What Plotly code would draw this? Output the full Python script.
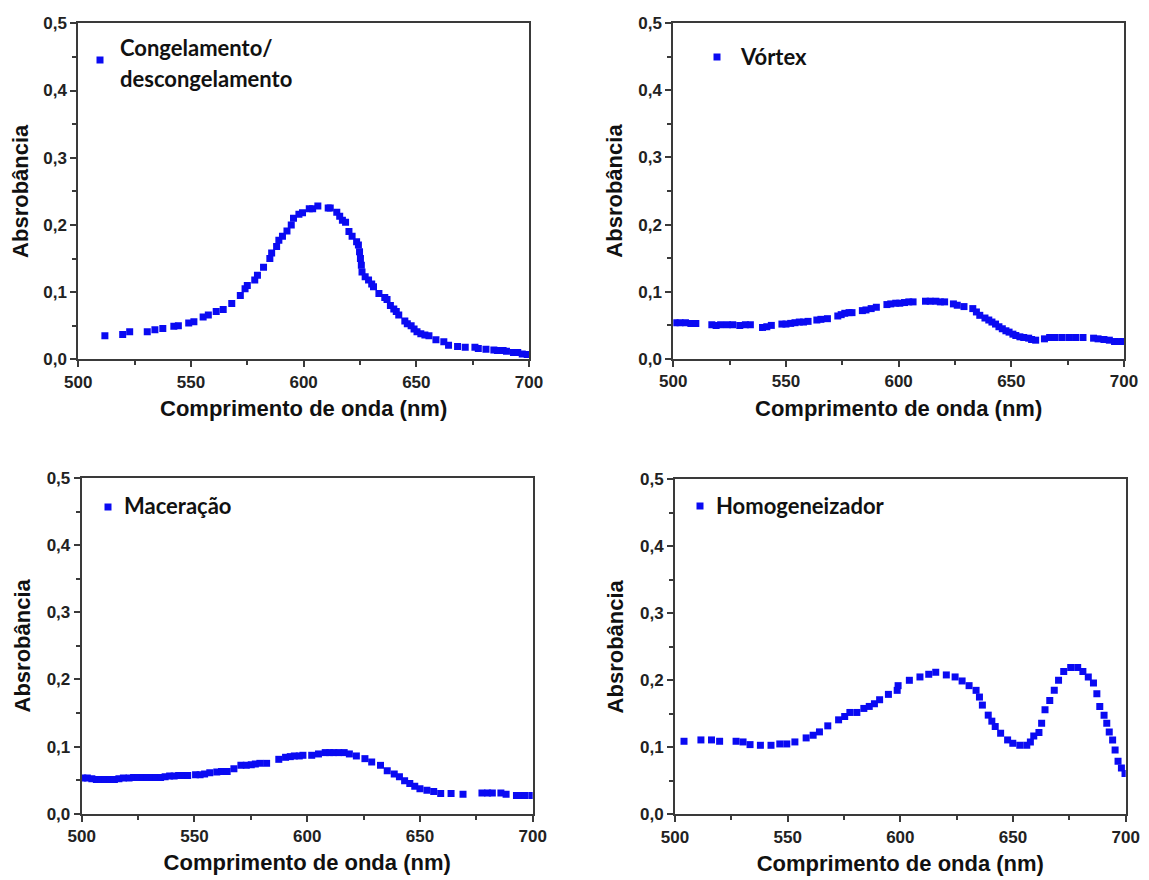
import plotly.graph_objects as go

# ---------------- data ----------------
wl_cong = [511.8, 519.7, 522.8, 530.6, 534.0, 537.5, 542.4, 544.4, 549.0, 551.3,
           555.4, 557.7, 561.2, 564.3, 568.1, 571.9, 574.0, 575.0, 578.3, 579.5,
           582.2, 585.0, 585.8, 588.0, 589.0, 590.6, 592.6, 594.5, 595.5, 597.9,
           599.5, 602.5, 604.0, 606.3, 610.9, 611.8, 614.7, 616.0, 617.2, 618.6,
           620.1, 621.5, 623.5, 624.3, 624.8, 625.2, 625.6, 625.9, 627.3, 628.8,
           630.2, 631.0, 633.4, 636.0, 637.0, 638.5, 640.0, 641.1, 642.2, 644.9,
           646.0, 647.7, 649.0, 650.3, 652.0, 653.8, 655.6, 658.7, 662.2, 664.3,
           668.3, 671.7, 676.0, 677.5, 680.9, 684.4, 686.0, 688.5, 690.0, 693.1,
           695.0, 697.0, 699.2]
abs_cong = [0.035, 0.037, 0.041, 0.041, 0.044, 0.046, 0.049, 0.050, 0.054, 0.056,
            0.063, 0.066, 0.071, 0.074, 0.083, 0.095, 0.105, 0.110, 0.118, 0.125,
            0.137, 0.150, 0.158, 0.168, 0.177, 0.183, 0.191, 0.200, 0.210, 0.216,
            0.218, 0.224, 0.224, 0.228, 0.225, 0.225, 0.219, 0.213, 0.207, 0.204,
            0.190, 0.183, 0.175, 0.170, 0.160, 0.150, 0.140, 0.130, 0.123, 0.118,
            0.112, 0.108, 0.098, 0.092, 0.089, 0.080, 0.075, 0.071, 0.066, 0.057,
            0.053, 0.050, 0.045, 0.041, 0.038, 0.036, 0.035, 0.029, 0.026, 0.021,
            0.019, 0.018, 0.018, 0.016, 0.015, 0.014, 0.013, 0.013, 0.012, 0.010,
            0.010, 0.008, 0.007]

wl_vort = [500.8, 503.0, 505.4, 507.8, 510.0, 517.1, 519.0, 521.0, 524.0, 526.4,
           529.5, 532.0, 534.2, 539.6, 541.5, 543.5, 548.2, 550.0, 552.1, 554.0,
           555.9, 557.8, 559.8, 563.7, 565.5, 568.4, 573.0, 574.5, 576.1, 578.0,
           579.3, 583.9, 585.5, 587.8, 590.1, 594.8, 596.5, 598.7, 600.5, 602.6,
           604.5, 606.4, 611.9, 614.0, 616.5, 618.5, 620.4, 624.3, 626.0, 629.0,
           632.9, 634.5, 636.0, 638.3, 640.0, 641.4, 643.0, 644.5, 646.0, 647.6,
           649.0, 650.7, 652.0, 653.8, 655.5, 657.7, 659.0, 660.8, 664.7, 667.0,
           669.4, 672.5, 675.6, 678.5, 681.8, 686.5, 688.5, 691.1, 693.5, 695.8,
           697.5, 699.7]
abs_vort = [0.054, 0.054, 0.054, 0.053, 0.053, 0.051, 0.050, 0.051, 0.051, 0.051,
            0.050, 0.051, 0.051, 0.047, 0.048, 0.050, 0.052, 0.052, 0.053, 0.054,
            0.055, 0.055, 0.056, 0.058, 0.059, 0.060, 0.064, 0.066, 0.068, 0.069,
            0.069, 0.072, 0.073, 0.075, 0.077, 0.081, 0.082, 0.083, 0.083, 0.084,
            0.085, 0.085, 0.086, 0.086, 0.086, 0.085, 0.085, 0.082, 0.080, 0.078,
            0.075, 0.070, 0.065, 0.061, 0.058, 0.055, 0.052, 0.048, 0.045, 0.042,
            0.040, 0.037, 0.035, 0.033, 0.032, 0.031, 0.029, 0.028, 0.030, 0.032,
            0.032, 0.032, 0.032, 0.032, 0.032, 0.031, 0.030, 0.029, 0.028, 0.026,
            0.026, 0.026]

wl_mac = [500.5, 502.5, 504.5, 506.5, 508.5, 510.5, 512.5, 514.5, 516.5, 518.5,
          521.0, 523.0, 525.0, 527.0, 529.0, 531.0, 533.0, 535.0, 537.0, 539.0,
          541.0, 543.0, 545.0, 547.0, 550.5, 552.5, 554.5, 556.8, 559.9, 562.0,
          564.5, 567.5, 570.6, 573.0, 575.2, 577.0, 579.0, 582.0, 587.4, 590.4,
          592.5, 594.3, 596.5, 598.1, 602.0, 605.0, 608.0, 610.0, 611.8, 614.0,
          616.4, 618.7, 621.8, 625.6, 628.6, 632.5, 635.5, 638.6, 640.9, 643.2,
          645.5, 647.7, 650.0, 653.1, 656.1, 659.2, 663.8, 669.1, 677.5, 680.0,
          682.1, 685.9, 688.2, 692.8, 694.8, 696.6, 699.7]
abs_mac = [0.053, 0.053, 0.052, 0.051, 0.051, 0.051, 0.051, 0.051, 0.052, 0.053,
           0.053, 0.054, 0.054, 0.054, 0.054, 0.054, 0.054, 0.054, 0.055, 0.056,
           0.056, 0.057, 0.057, 0.057, 0.058, 0.058, 0.059, 0.061, 0.062, 0.063,
           0.063, 0.067, 0.072, 0.072, 0.073, 0.074, 0.075, 0.075, 0.081, 0.084,
           0.085, 0.086, 0.086, 0.087, 0.087, 0.089, 0.091, 0.091, 0.091, 0.091,
           0.091, 0.089, 0.086, 0.082, 0.077, 0.072, 0.064, 0.059, 0.055, 0.049,
           0.045, 0.041, 0.037, 0.035, 0.033, 0.030, 0.030, 0.029, 0.031, 0.031,
           0.031, 0.031, 0.029, 0.027, 0.027, 0.027, 0.027]

wl_homo = [504.0, 511.5, 516.2, 519.8, 527.1, 530.2, 533.3, 537.9, 542.6, 546.5,
           549.6, 553.2, 558.2, 561.3, 564.1, 567.8, 572.6, 575.3, 577.6, 580.7,
           583.8, 586.2, 588.5, 590.8, 594.7, 598.6, 599.0, 604.0, 608.7, 612.6,
           615.7, 620.4, 624.3, 627.4, 630.5, 633.6, 635.1, 636.4, 639.0, 640.6,
           642.1, 644.5, 647.6, 649.9, 653.0, 656.1, 657.7, 659.2, 661.5, 662.7,
           664.2, 666.3, 668.3, 670.2, 672.5, 675.6, 678.7, 681.0, 683.4, 685.7,
           687.2, 688.5, 690.4, 691.6, 692.7, 694.2, 695.3, 696.6, 698.1, 699.7]
abs_homo = [0.109, 0.111, 0.111, 0.109, 0.109, 0.108, 0.104, 0.103, 0.103, 0.105,
            0.105, 0.108, 0.114, 0.118, 0.123, 0.132, 0.141, 0.146, 0.152, 0.152,
            0.158, 0.161, 0.165, 0.171, 0.179, 0.185, 0.192, 0.200, 0.205, 0.209,
            0.212, 0.208, 0.205, 0.199, 0.192, 0.185, 0.175, 0.163, 0.148, 0.139,
            0.131, 0.121, 0.111, 0.106, 0.103, 0.103, 0.108, 0.117, 0.122, 0.136,
            0.156, 0.170, 0.185, 0.200, 0.213, 0.219, 0.219, 0.213, 0.205, 0.196,
            0.180, 0.161, 0.148, 0.136, 0.123, 0.111, 0.096, 0.079, 0.069, 0.061]

series_labels = [["Congelamento/", "descongelamento"], ["Vórtex"], ["Maceração"], ["Homogeneizador"]]
x_title = "Comprimento de onda (nm)"
y_title = "Absrobância"

series = [(wl_cong, abs_cong), (wl_vort, abs_vort), (wl_mac, abs_mac), (wl_homo, abs_homo)]

# ---------------- layout geometry (page pixels) ----------------
OFF = 8                      # default page body margin
W, H = 1149 - OFF, 880 - OFF  # figure size so it fits the window


def fx(px):
    return (px - OFF) / W


def fy(py):
    return 1 - (py - OFF) / H


boxes = [(78.3, 529.0, 23.3, 359.3),
         (673.3, 1124.0, 23.0, 359.0),
         (81.7, 532.7, 478.0, 813.7),
         (675.0, 1125.7, 479.3, 814.3)]
legend_pos = [((100, 60), 118, [48, 78]),
              ((717, 57), 738, [56]),
              ((108, 507), 122, [506]),
              ((700, 506), 714, [505])]

BLUE = "#0a0af2"
AXC = "#3a3a3a"
TICKFONT = dict(family="Liberation Sans, Arial, sans-serif", size=17, color="#222222", weight="bold")
TITLEFONT = dict(family="Liberation Sans, Arial, sans-serif", size=22, color="#111111", weight="bold")
LEGFONT = dict(family="Lato, Open Sans, sans-serif", size=22, color="#111111", weight="bold")

fig = go.Figure()
layout = dict(width=W, height=H, autosize=False,
              margin=dict(l=0, r=0, t=0, b=0, autoexpand=False),
              paper_bgcolor="white", plot_bgcolor="white",
              showlegend=False, separators=",.")
annotations = []
shapes = []

for i, ((xs, ys), (l, r, t, b)) in enumerate(zip(series, boxes)):
    n = "" if i == 0 else str(i + 1)
    fig.add_trace(go.Scatter(x=xs, y=ys, mode="markers", xaxis="x" + n, yaxis="y" + n,
                             marker=dict(symbol="square", size=7, color=BLUE, line=dict(width=0)),
                             name=" ".join(series_labels[i])))
    layout["xaxis" + n] = dict(
        domain=[fx(l), fx(r)], anchor="y" + n, range=[500, 700], tick0=500, dtick=50,
        automargin=False,
        ticks="outside", ticklen=6, tickwidth=2, tickcolor=AXC,
        showline=True, linewidth=2, linecolor=AXC, mirror=True,
        showgrid=False, zeroline=False, tickfont=TICKFONT,
        minor=dict(ticks="outside", ticklen=4, tickwidth=1.5, tickcolor=AXC, dtick=25, tick0=500, showgrid=False),
        title=dict(text=x_title, font=TITLEFONT, standoff=10))
    layout["yaxis" + n] = dict(
        domain=[fy(b), fy(t)], anchor="x" + n, range=[0, 0.5], tick0=0, dtick=0.1,
        tickformat=".1f", automargin=False,
        ticks="outside", ticklen=6, tickwidth=2, tickcolor=AXC,
        showline=True, linewidth=2, linecolor=AXC, mirror=True,
        showgrid=False, zeroline=False, tickfont=TICKFONT,
        minor=dict(ticks="outside", ticklen=4, tickwidth=1.5, tickcolor=AXC, dtick=0.05, tick0=0, showgrid=False),
        title=dict(text=y_title, font=TITLEFONT, standoff=10))

    (mx, my), tx, tys = legend_pos[i]
    shapes.append(dict(type="rect", xref="paper", yref="paper",
                       x0=fx(mx - 3.5), x1=fx(mx + 3.5),
                       y0=fy(my + 3.5), y1=fy(my - 3.5),
                       fillcolor=BLUE, line=dict(width=0)))
    for line_text, ty in zip(series_labels[i], tys):
        annotations.append(dict(text=line_text, xref="paper", yref="paper",
                                x=fx(tx), y=fy(ty), xanchor="left", yanchor="middle",
                                showarrow=False, font=LEGFONT))

layout["annotations"] = annotations
layout["shapes"] = shapes
fig.update_layout(**layout)
fig.write_html("out.html")
